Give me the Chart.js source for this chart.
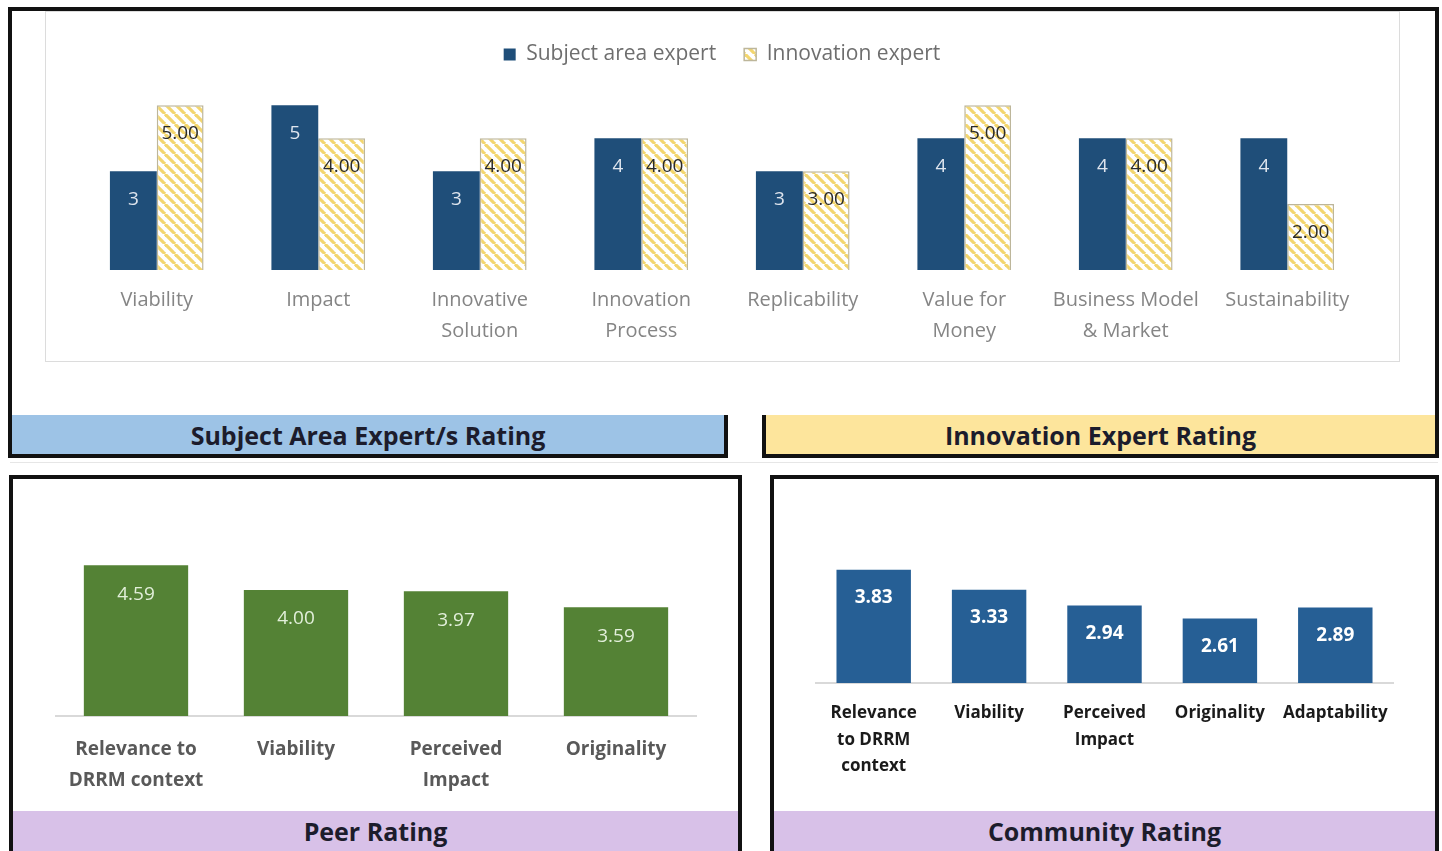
<!DOCTYPE html>
<html>
<head>
<meta charset="utf-8">
<script src="https://cdn.jsdelivr.net/npm/chart.js@4.4.1/dist/chart.umd.min.js"></script>
<style>
  body { margin: 0; background: #fff; width: 1442px; height: 851px; position: relative; overflow: hidden; font-family: "Open Sans", Lato, sans-serif; }
  .frame { position: absolute; border: 4px solid #111; box-sizing: border-box; }
  .banner { position: absolute; box-sizing: border-box; font-weight: bold; font-size: 25px; color: #1c1c2c; text-align: center; }
  .box { position: absolute; }
  canvas { display: block; }
</style>
</head>
<body>

<!-- top panel -->
<div class="frame" style="left:8px;top:7px;width:1431px;height:412px;border-bottom:none"></div>
<div class="box" style="left:45px;top:11px;width:1355px;height:351px;border:1px solid #dcdcdc;box-sizing:border-box"></div>
<div class="box" style="left:45px;top:14px;width:1355px;height:348px"><canvas id="expertChart" width="1355" height="348"></canvas></div>
<div class="banner" style="left:8px;top:415px;width:720px;height:43px;background:#9dc3e6;border:4px solid #111;border-top:none;line-height:40px">Subject Area Expert/s Rating</div>
<div class="banner" style="left:762px;top:415px;width:677px;height:43px;background:#fde59c;border:4px solid #111;border-top:none;line-height:40px">Innovation Expert Rating</div>
<div class="box" style="left:10px;top:462px;width:1428px;height:1px;background:#e6e6e6"></div>

<!-- bottom left -->
<div class="frame" style="left:9px;top:475px;width:733px;height:390px"></div>
<div class="box" style="left:13px;top:479px;width:725px;height:332px"><canvas id="peerChart" width="725" height="332"></canvas></div>
<div class="banner" style="left:13px;top:811px;width:725px;height:44px;background:#d8c1e8;line-height:40px">Peer Rating</div>

<!-- bottom right -->
<div class="frame" style="left:770px;top:475px;width:669px;height:390px"></div>
<div class="box" style="left:774px;top:479px;width:661px;height:332px"><canvas id="communityChart" width="661" height="332"></canvas></div>
<div class="banner" style="left:774px;top:811px;width:661px;height:44px;background:#d8c1e8;line-height:40px">Community Rating</div>

<script>
// ---- data ----
const expertCategories = [
  "Viability", "Impact", ["Innovative", "Solution"], ["Innovation", "Process"],
  "Replicability", ["Value for", "Money"], ["Business Model", "& Market"], "Sustainability"
];
const subjectExpert = [3, 5, 3, 4, 3, 4, 4, 4];
const innovationExpert = [5, 4, 4, 4, 3, 5, 4, 2];

const peerCategories = [["Relevance to", "DRRM context"], "Viability", ["Perceived", "Impact"], "Originality"];
const peerValues = [4.59, 4.00, 3.97, 3.59];

const communityCategories = [["Relevance", "to DRRM", "context"], "Viability", ["Perceived", "Impact"], "Originality", "Adaptability"];
const communityValues = [3.83, 3.33, 2.94, 2.61, 2.89];

const FONT = "'Open Sans', Lato, sans-serif";

// diagonal yellow hatch for the innovation expert bars
function makeHatch() {
  const s = 10;
  const c = document.createElement("canvas");
  c.width = s; c.height = s;
  const g = c.getContext("2d");
  g.fillStyle = "#ffffff";
  g.fillRect(0, 0, s, s);
  g.strokeStyle = "#f3d66e";
  g.lineWidth = 3.2;
  for (const k of [-s, 0, s]) {
    g.beginPath();
    g.moveTo(k, 0);
    g.lineTo(k + s, s);
    g.stroke();
  }
  return g.createPattern(c, "repeat");
}

// value labels drawn just under the top of each bar
const valueLabels = {
  id: "valueLabels",
  afterDatasetsDraw(chart, args, opts) {
    const ctx = chart.ctx;
    chart.data.datasets.forEach((ds, i) => {
      const st = opts.styles[i];
      const meta = chart.getDatasetMeta(i);
      ctx.save();
      ctx.font = st.font;
      ctx.fillStyle = st.color;
      ctx.textAlign = "center";
      ctx.textBaseline = "middle";
      meta.data.forEach((bar, j) => {
        ctx.fillText(st.format(ds.data[j]), bar.x, bar.y + st.dy);
      });
      ctx.restore();
    });
  }
};

Chart.register(valueLabels);

new Chart(document.getElementById("expertChart"), {
  type: "bar",
  data: {
    labels: expertCategories,
    datasets: [
      {
        label: "Subject area expert",
        data: subjectExpert,
        backgroundColor: "#1f4e79",
        borderWidth: 0,
        barPercentage: 1,
        categoryPercentage: 0.58
      },
      {
        label: "Innovation expert",
        data: innovationExpert,
        backgroundColor: makeHatch(),
        borderColor: "#bdb69a",
        borderWidth: 1.5,
        barPercentage: 1,
        categoryPercentage: 0.58
      }
    ]
  },
  options: {
    responsive: false,
    animation: false,
    layout: { padding: { top: 2, left: 31, right: 32, bottom: 0 } },
    scales: {
      x: {
        grid: { display: false, drawTicks: false },
        border: { display: false },
        ticks: { color: "#858585", padding: 15, font: { family: FONT, size: 20, lineHeight: 1.55 } },
        afterFit: (axis) => { axis.height = 92; }
      },
      y: { display: false, min: 0, max: 5.92 }
    },
    plugins: {
      legend: {
        position: "top",
        labels: { color: "#6e6e6e", boxWidth: 12, boxHeight: 12, padding: 28, font: { family: FONT, size: 21 } }
      },
      tooltip: { enabled: false },
      valueLabels: {
        styles: [
          { font: "19px " + FONT, color: "#dfe5ee", dy: 28, format: (v) => String(v) },
          { font: "19px " + FONT, color: "#2b2b2b", dy: 28, format: (v) => v.toFixed(2) }
        ]
      }
    }
  }
});

new Chart(document.getElementById("peerChart"), {
  type: "bar",
  data: {
    labels: peerCategories,
    datasets: [{
      label: "Peer Rating",
      data: peerValues,
      backgroundColor: "#548235",
      borderWidth: 0,
      barPercentage: 0.652,
      categoryPercentage: 1
    }]
  },
  options: {
    responsive: false,
    animation: false,
    layout: { padding: { top: 69, left: 43, right: 42, bottom: 0 } },
    scales: {
      x: {
        grid: { display: false, drawTicks: false },
        border: { display: true, color: "#d9d9d9", width: 2 },
        ticks: { color: "#595959", padding: 18, font: { family: FONT, size: 19, weight: "bold", lineHeight: 1.63 } },
        afterFit: (axis) => { axis.height = 95; }
      },
      y: { display: false, min: 1, max: 5 }
    },
    plugins: {
      legend: { display: false },
      tooltip: { enabled: false },
      valueLabels: {
        styles: [{ font: "19px " + FONT, color: "#e2efda", dy: 29, format: (v) => v.toFixed(2) }]
      }
    }
  }
});

new Chart(document.getElementById("communityChart"), {
  type: "bar",
  data: {
    labels: communityCategories,
    datasets: [{
      label: "Community Rating",
      data: communityValues,
      backgroundColor: "#265f95",
      borderWidth: 0,
      barPercentage: 0.645,
      categoryPercentage: 1
    }]
  },
  options: {
    responsive: false,
    animation: false,
    layout: { padding: { top: 84, left: 42, right: 42, bottom: 0 } },
    scales: {
      x: {
        grid: { display: false, drawTicks: false },
        border: { display: true, color: "#d9d9d9", width: 2 },
        ticks: { color: "#1a1a1a", padding: 17, font: { family: FONT, size: 17, weight: "bold", lineHeight: 1.56 } },
        afterFit: (axis) => { axis.height = 128; }
      },
      y: { display: false, min: 1, max: 4 }
    },
    plugins: {
      legend: { display: false },
      tooltip: { enabled: false },
      valueLabels: {
        styles: [{ font: "bold 19px " + FONT, color: "#ffffff", dy: 28, format: (v) => v.toFixed(2) }]
      }
    }
  }
});
</script>
</body>
</html>
